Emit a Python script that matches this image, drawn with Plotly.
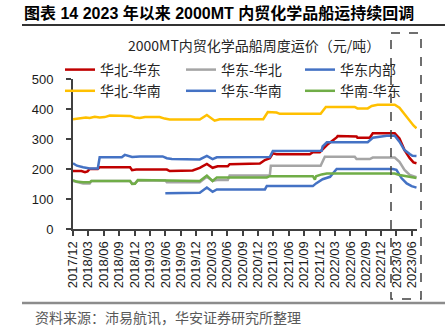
import plotly.graph_objects as go

# ---- data: weekly freight rates (yuan/ton), key points per route ----
hb_hd_dates = ["2017-12-01", "2018-01-20", "2018-02-10", "2018-02-25", "2018-03-10", "2018-04-27",
               "2018-05-08", "2018-11-04", "2018-11-16", "2018-12-10", "2019-06-10", "2019-06-27",
               "2019-11-10", "2019-12-22", "2020-02-02", "2020-03-07", "2020-04-06", "2020-06-05",
               "2020-06-16", "2020-11-24", "2020-12-12", "2021-01-11", "2021-02-09", "2021-02-27",
               "2021-03-21", "2021-10-04", "2021-10-22", "2021-12-02", "2021-12-19", "2022-01-13",
               "2022-03-12", "2022-03-18", "2022-07-08", "2022-07-13", "2022-09-24", "2022-10-12",
               "2023-02-19", "2023-03-01", "2023-03-19", "2023-04-18", "2023-05-19", "2023-06-10",
               "2023-06-28"]
hb_hd_vals = [193, 193, 189, 192, 200, 200,
              206, 206, 196, 198, 198, 193,
              195, 204, 217, 204, 209, 209,
              216, 216, 218, 230, 236, 252,
              249, 249, 256, 256, 265, 280,
              305, 310, 308, 304, 304, 319,
              319, 314, 302, 263, 236, 222,
              219]

hd_hb_dates = ["2017-12-01", "2018-01-01", "2018-01-30", "2018-03-10", "2018-03-20", "2018-11-04",
               "2018-11-16", "2018-12-03", "2018-12-20", "2019-06-01", "2019-06-10", "2019-12-22",
               "2020-02-02", "2020-03-07", "2020-04-01", "2020-06-05", "2020-06-16", "2021-02-09",
               "2021-02-15", "2021-12-07", "2022-01-01", "2022-06-27", "2022-07-08", "2022-09-24",
               "2022-10-12", "2023-02-19", "2023-03-19", "2023-04-18", "2023-05-19", "2023-06-28"]
hd_hb_vals = [160, 156, 152, 152, 160, 160,
              152, 152, 162, 162, 156, 156,
              174, 160, 163, 163, 178, 178,
              211, 211, 241, 241, 233, 233,
              238, 238, 224, 197, 180, 173]

hd_nb_dates = ["2017-12-01", "2017-12-24", "2018-01-30", "2018-03-10", "2018-04-27", "2018-05-08",
               "2018-09-16", "2018-10-04", "2018-11-16", "2019-01-01", "2019-05-16", "2019-06-10",
               "2019-07-10", "2019-12-22", "2020-02-02", "2020-03-07", "2020-04-01", "2021-01-11",
               "2021-02-09", "2021-02-27", "2021-12-13", "2021-12-19", "2022-01-13", "2022-09-12",
               "2022-10-12", "2023-01-03", "2023-02-19", "2023-03-19", "2023-04-18", "2023-05-19",
               "2023-06-04", "2023-06-28"]
hd_nb_vals = [219, 211, 206, 202, 202, 239,
              239, 247, 240, 242, 242, 236,
              233, 232, 244, 233, 239, 239,
              240, 260, 261, 275, 289, 289,
              304, 311, 311, 291, 263, 250,
              244, 243]

hb_hn_dates = ["2017-12-01", "2018-01-12", "2018-02-15", "2018-03-10", "2018-04-09", "2018-05-08",
               "2018-06-07", "2018-07-07", "2018-10-04", "2018-11-04", "2018-12-03", "2019-01-01",
               "2019-02-01", "2019-04-28", "2019-05-28", "2019-06-27", "2019-12-22", "2020-02-02",
               "2020-03-19", "2020-04-18", "2021-01-01", "2021-01-28", "2021-03-21", "2021-04-09",
               "2021-12-07", "2022-01-07", "2022-06-27", "2022-07-13", "2022-09-12", "2022-10-06",
               "2022-11-10", "2023-02-19", "2023-03-19", "2023-04-18", "2023-05-19", "2023-06-10",
               "2023-06-28"]
hb_hn_vals = [366, 368, 372, 370, 374, 372,
              373, 378, 378, 377, 372, 370,
              373, 373, 368, 365, 365, 380,
              361, 366, 366, 390, 388, 384,
              384, 407, 407, 402, 402, 410,
              414, 414, 404, 382, 358, 345,
              336]

hd_hn_dates = ["2019-06-01", "2019-12-22", "2020-02-02", "2020-03-07", "2020-04-01", "2021-01-11",
               "2021-01-22", "2021-10-22", "2021-11-10", "2021-12-19", "2022-02-01", "2022-03-12",
               "2023-02-08", "2023-03-01", "2023-04-01", "2023-05-01", "2023-05-30", "2023-06-28"]
hd_hn_vals = [119, 121, 138, 124, 132, 132,
              143, 143, 152, 166, 174, 200,
              200, 197, 169, 152, 143, 138]

hn_hd_dates = ["2017-12-01", "2017-12-20", "2018-01-30", "2018-03-10", "2018-03-20", "2018-11-04",
               "2018-11-16", "2018-12-03", "2018-12-20", "2019-06-10", "2019-12-22", "2020-02-02",
               "2020-03-07", "2020-04-01", "2021-01-22", "2021-02-09", "2021-10-22", "2021-11-03",
               "2021-11-10", "2021-12-13", "2022-01-13", "2023-02-19", "2023-03-19", "2023-06-28"]
hn_hd_vals = [163, 158, 156, 156, 160, 160,
              150, 151, 163, 162, 160, 178,
              160, 172, 172, 176, 176, 165,
              176, 182, 185, 185, 180, 170]

tick_dates = ["2017-12-01", "2018-03-01", "2018-06-01", "2018-09-01", "2018-12-01", "2019-03-01",
              "2019-06-01", "2019-09-01", "2019-12-01", "2020-03-01", "2020-06-01", "2020-09-01",
              "2020-12-01", "2021-03-01", "2021-06-01", "2021-09-01", "2021-12-01", "2022-03-01",
              "2022-06-01", "2022-09-01", "2022-12-01", "2023-03-01", "2023-06-01"]
tick_labels = [d[:7].replace("-", "/") for d in tick_dates]

# ---- canvas geometry (pixels) ----
W, H = 445, 332
L, R, T, B = 73, 417, 79, 229  # plot area edges


def px(x):
    return (x - L) / (R - L)


def py(y):
    return (B - y) / (B - T)


CJK = "Noto Sans CJK SC"
LAT = "Liberation Sans, Arial, Noto Sans CJK SC"

series = [
    ("华北-华东", hb_hd_dates, hb_hd_vals, "#C00000", "legend"),
    ("华北-华南", hb_hn_dates, hb_hn_vals, "#FFC000", "legend"),
    ("华东-华北", hd_hb_dates, hd_hb_vals, "#A5A5A5", "legend2"),
    ("华东-华南", hd_hn_dates, hd_hn_vals, "#4472C4", "legend2"),
    ("华东内部", hd_nb_dates, hd_nb_vals, "#4472C4", "legend3"),
    ("华南-华东", hn_hd_dates, hn_hd_vals, "#70AD47", "legend3"),
]

fig = go.Figure()
for name, xs, ys, color, leg in series:
    fig.add_trace(go.Scatter(x=xs, y=ys, name=name, mode="lines",
                             line=dict(color=color, width=2.5), legend=leg))

leg_common = dict(orientation="v", xanchor="left", yanchor="top", bgcolor="rgba(0,0,0,0)",
                  font=dict(family=CJK, size=14, color="#262626"), itemwidth=30,
                  tracegroupgap=0, traceorder="normal")

fig.update_layout(
    width=W, height=H,
    margin=dict(l=L, r=W - R, t=T, b=H - B, pad=0),
    paper_bgcolor="white", plot_bgcolor="white",
    showlegend=True,
    legend=dict(x=px(60), y=py(54), **leg_common),
    legend2=dict(x=px(181), y=py(54), **leg_common),
    legend3=dict(x=px(300), y=py(54), **leg_common),
    xaxis=dict(type="date", range=["2017-12-01", "2023-07-01"], showgrid=False,
               showline=True, linecolor="#404040", linewidth=2,
               ticks="outside", ticklen=5, tickwidth=1.5, tickcolor="#404040",
               tickvals=tick_dates, ticktext=tick_labels, tickangle=-90,
               tickfont=dict(family=LAT, size=13, color="#1a1a1a"), zeroline=False),
    yaxis=dict(range=[0, 500], dtick=100, showgrid=False, zeroline=False,
               showline=True, linecolor="#404040", linewidth=2,
               ticks="outside", ticklen=5, tickwidth=1.5, tickcolor="#404040",
               ticklabelstandoff=10,
               tickfont=dict(family=LAT, size=13, color="#1a1a1a")),
)

annotations = [
    dict(text="<b>图表 14 2023 年以来 2000MT 内贸化学品船运持续回调</b>",
         x=px(22), y=py(13), xanchor="left", yanchor="middle",
         font=dict(family=LAT, size=16, color="#000000")),
    dict(text="2000MT内贸化学品船周度运价（元/吨）",
         x=px(254), y=py(45), xanchor="center", yanchor="middle",
         font=dict(family=CJK, size=14, color="#262626")),
    dict(text="资料来源：沛易航讯，华安证券研究所整理",
         x=px(33), y=py(317), xanchor="left", yanchor="middle",
         font=dict(family=CJK, size=14, color="#595959")),
]
for a in annotations:
    a.update(xref="paper", yref="paper", showarrow=False)
fig.update_layout(annotations=annotations)

shapes = [
    # header rule
    dict(type="line", x0=px(22), x1=px(445), y0=py(25), y1=py(25),
         line=dict(color="#333333", width=2)),
    # footer rule
    dict(type="line", x0=px(22), x1=px(445), y0=py(303), y1=py(303),
         line=dict(color="#8c8c8c", width=2.5)),
    # highlight box around 2023
    dict(type="rect", x0=px(391), x1=px(421), y0=py(33), y1=py(299),
         line=dict(color="#404040", width=1.5, dash="dash")),
]
for s in shapes:
    s.update(xref="paper", yref="paper", layer="above")
fig.update_layout(shapes=shapes)

fig.write_html("out.html")
